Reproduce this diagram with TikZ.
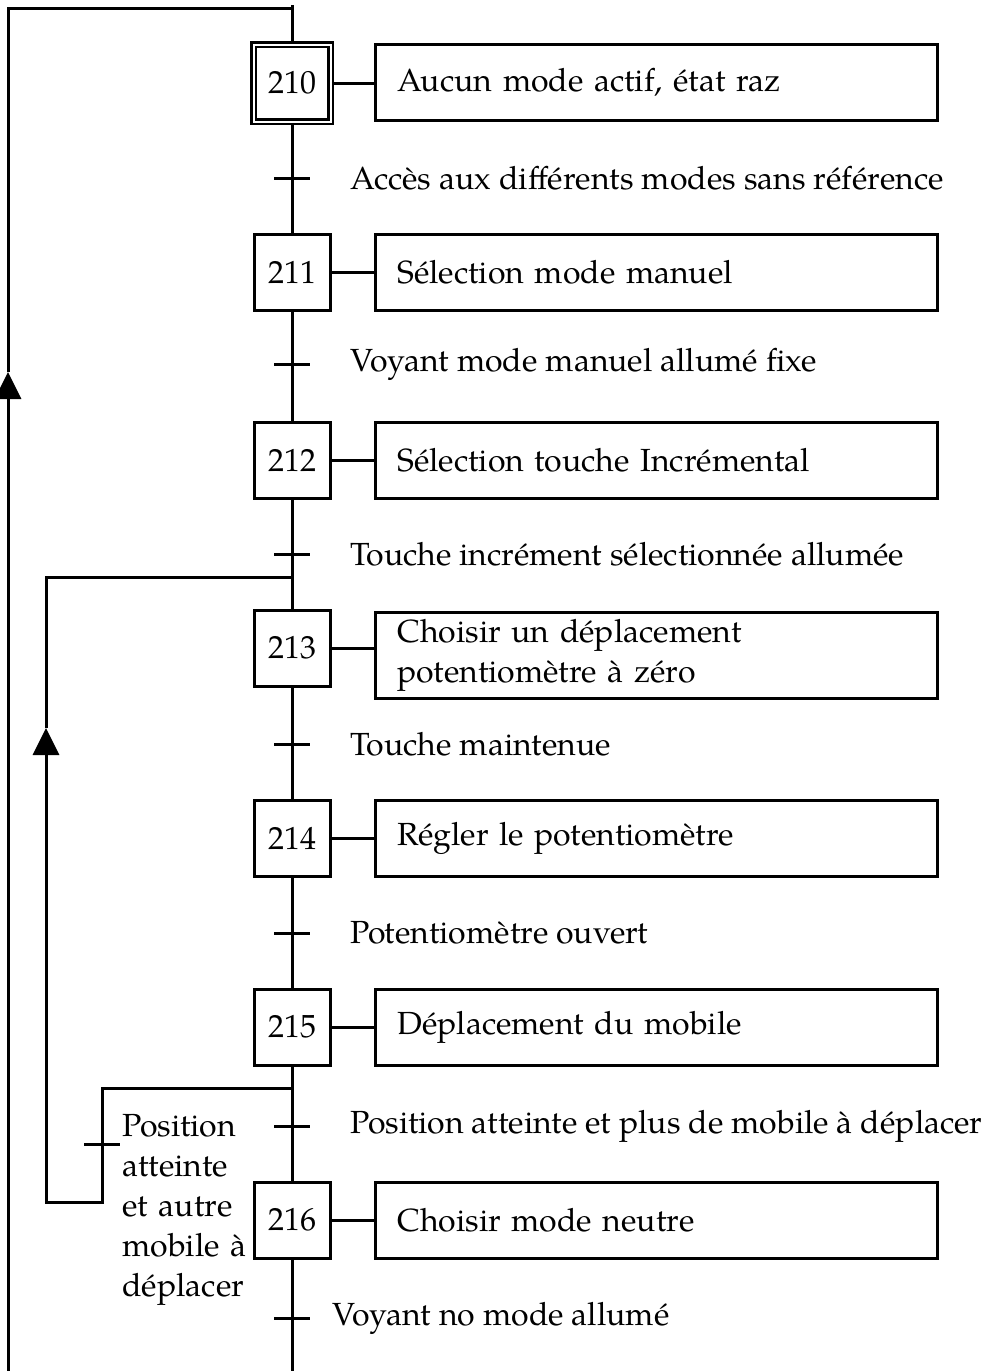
\documentclass[tikz,border=0pt]{standalone}
\usepackage{fontspec}
\setmainfont{TeX Gyre Pagella}
\usepackage{tikz}
\usetikzlibrary{arrows.meta}
\tikzstyle{Etape}=[draw,line width=1.5pt,minimum size=38pt,inner sep=0pt]
\tikzstyle{EtapeInit}=[draw,double,line width=1.4pt,double distance=1pt,
minimum size=38.5pt,inner sep=0pt]
\tikzstyle{Action}=[draw,line width=1.5pt,minimum height=38pt,text width=259pt,
inner xsep=11pt,align=left]
\tikzstyle{Recep}=[anchor=west,inner sep=0pt]
\tikzstyle{Liaison}=[line width=1.5pt]
\tikzstyle{Fleche}=[line width=1.5pt,-{Triangle[length=13.5pt,width=13pt]}]

\begin{document}
\begin{tikzpicture}[x=0.5pt,y=-0.5pt,
        every node/.style={font=\fontsize{16}{20}\selectfont}]
        \useasboundingbox (0,0) rectangle (988,1371);
        % etapes
        \node[EtapeInit](E210)at(292,83){210};
        \node[Etape](E211)at(292,272){211};
        \node[Etape](E212)at(292,460){212};
        \node[Etape](E213)at(292,648){213};
        \node[Etape](E214)at(292,838){214};
        \node[Etape](E215)at(292,1027){215};
        \node[Etape](E216)at(292,1220){216};
        % actions
        \node[Action,anchor=west](A210)at(374,82){Aucun mode actif, état raz};
        \node[Action,anchor=west](A211)at(374,272){Sélection mode manuel};
        \node[Action,anchor=west](A212)at(374,460){Sélection touche Incrémental};
        \node[Action,anchor=north west](A213)at(374,611){Choisir un déplacement\\potentiomètre à zéro};
        \node[Action,anchor=west](A214)at(374,838){Régler le potentiomètre};
        \node[Action,anchor=west](A215)at(374,1027){Déplacement du mobile};
        \node[Action,anchor=west](A216)at(374,1220){Choisir mode neutre};
        \foreach \n in {210,...,216}
            \draw[Liaison](E\n.east)--(E\n.east-|A\n.west);
        % transitions
        \coordinate(T1)at(292,178);
        \coordinate(T2)at(292,364);
        \coordinate(T3)at(292,554);
        \coordinate(T4)at(292,744);
        \coordinate(T5)at(292,933);
        \coordinate(T6)at(292,1126);
        \coordinate(T7)at(292,1318);
        \coordinate(T8)at(102,1144);
        \foreach \t in {T1,T2,T3,T4,T5,T6,T7,T8}
            \draw[Liaison]([xshift=-9pt]\t)--([xshift=9pt]\t);
        \node[Recep](R1)at(350,178){Accès aux différents modes sans référence};
        \node[Recep](R2)at(350,364){Voyant mode manuel allumé fixe};
        \node[Recep](R3)at(350,554){Touche incrément sélectionnée allumée};
        \node[Recep](R4)at(350,744){Touche maintenue};
        \node[Recep](R5)at(350,933){Potentiomètre ouvert};
        \node[Recep](R6)at(350,1126){Position atteinte et plus de mobile à déplacer};
        \node[Recep](R7)at(332,1318){Voyant no mode allumé};
        \node[anchor=base west,inner sep=0pt,text width=110pt,align=left](R8)
            at(122,1136){Position\\atteinte\\et autre\\mobile à\\déplacer};
        % ligne principale
        \coordinate(haut)at(292,5);
        \coordinate(bas)at(292,1371);
        \draw[Liaison](haut)--(E210);
        \draw[Liaison](E210)--(E211);
        \draw[Liaison](E211)--(E212);
        \draw[Liaison](E212)--(E213);
        \draw[Liaison](E213)--(E214);
        \draw[Liaison](E214)--(E215);
        \draw[Liaison](E215)--(E216);
        \draw[Liaison](E216)--(bas);
        % retour a l'etape initiale
        \coordinate(R0)at(8,1371);
        \coordinate(F1)at(8,372);
        \coordinate(C1)at(8,8);
        \coordinate(J0)at(292,8);
        \draw[Fleche](R0)--(F1);
        \draw[Liaison](F1)--(C1)--(J0);
        % reprise a l'etape 213
        \coordinate(J1)at(292,577);
        \coordinate(J2)at(292,1088);
        \coordinate(F2)at(46,728);
        \draw[Fleche](J2)--(102,1088)--(102,1202)--(46,1202)--(F2);
        \draw[Liaison](F2)--(46,577)--(J1);
    \end{tikzpicture}
\end{document}
